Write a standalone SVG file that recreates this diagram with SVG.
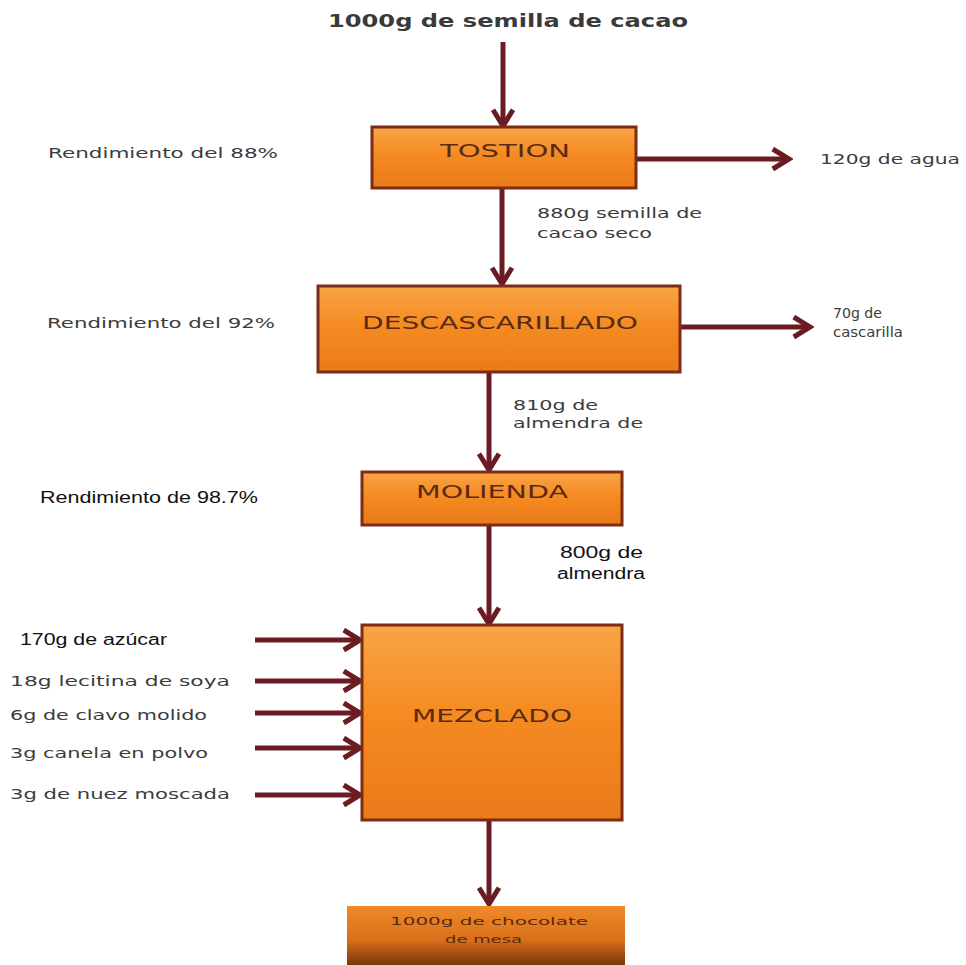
<svg xmlns="http://www.w3.org/2000/svg" width="966" height="965" viewBox="0 0 966 965">
  <style>
    .box { stroke: #7d2c16; stroke-width: 3; }
    .step { font-family: "DejaVu Sans", sans-serif; font-size: 18px; fill: #5a2a12; text-anchor: middle; }
    .note { font-family: "DejaVu Sans", sans-serif; font-size: 14px; fill: #3c3c3c; }
    .plain { font-family: "Liberation Sans", Arial, sans-serif; font-size: 16px; fill: #111; }
    .flow { stroke: #6b1c22; stroke-width: 5; fill: none; marker-end: url(#head); }
  </style>
  <defs>
    <linearGradient id="orange" x1="0" y1="0" x2="0" y2="1">
      <stop offset="0" stop-color="#f9a447"/>
      <stop offset="0.45" stop-color="#f58b22"/>
      <stop offset="1" stop-color="#ea7a1a"/>
    </linearGradient>
    <linearGradient id="orangeDark" x1="0" y1="0" x2="0" y2="1">
      <stop offset="0" stop-color="#f08a2a"/>
      <stop offset="0.55" stop-color="#d8701a"/>
      <stop offset="1" stop-color="#6e2e0c"/>
    </linearGradient>
    <marker id="head" viewBox="0 0 10 10" refX="8.5" refY="5" markerWidth="5" markerHeight="5" orient="auto" markerUnits="strokeWidth">
      <polyline points="2,1 8.5,5 2,9" fill="none" stroke="#6b1c22" stroke-width="2"/>
    </marker>
  </defs>
  <rect width="966" height="965" fill="#ffffff"/>

  <!-- flow arrows -->
  <g id="connectors">
    <line class="flow" x1="503" y1="42" x2="503" y2="126"/>
    <line class="flow" x1="636" y1="159" x2="789" y2="159"/>
    <line class="flow" x1="502" y1="188" x2="502" y2="284"/>
    <line class="flow" x1="680" y1="327" x2="810" y2="327"/>
    <line class="flow" x1="489" y1="372" x2="489" y2="470"/>
    <line class="flow" x1="489" y1="525" x2="489" y2="624"/>
    <line class="flow" x1="255" y1="640" x2="360" y2="640"/>
    <line class="flow" x1="255" y1="681" x2="360" y2="681"/>
    <line class="flow" x1="255" y1="713" x2="360" y2="713"/>
    <line class="flow" x1="255" y1="748" x2="360" y2="748"/>
    <line class="flow" x1="255" y1="795" x2="360" y2="795"/>
    <line class="flow" x1="489" y1="820" x2="489" y2="904"/>
  </g>

  <!-- raw material -->
  <g id="source">
    <text x="328" y="27" font-family="DejaVu Sans, sans-serif" font-size="18" font-weight="bold" fill="#3a3a3a" textLength="360" lengthAdjust="spacingAndGlyphs">1000g de semilla de cacao</text>
  </g>

  <g id="tostion">
    <rect class="box" x="372" y="127" width="264" height="61" fill="url(#orange)"/>
    <text class="step" x="505" y="157" textLength="130" lengthAdjust="spacingAndGlyphs">TOSTION</text>
  </g>
  <g id="agua">
    <text class="note" x="820" y="164" textLength="140" lengthAdjust="spacingAndGlyphs">120g de agua</text>
  </g>
  <g id="rend-88">
    <text class="note" x="48" y="158" textLength="230" lengthAdjust="spacingAndGlyphs">Rendimiento del  88%</text>
  </g>
  <g id="label-880">
    <text class="note" x="537" y="218" textLength="165" lengthAdjust="spacingAndGlyphs">880g semilla de</text>
    <text class="note" x="537" y="238" textLength="115" lengthAdjust="spacingAndGlyphs">cacao seco</text>
  </g>

  <g id="descascarillado">
    <rect class="box" x="318" y="286" width="362" height="86" fill="url(#orange)"/>
    <text class="step" x="500" y="329" textLength="276" lengthAdjust="spacingAndGlyphs">DESCASCARILLADO</text>
  </g>
  <g id="cascarilla">
    <text class="note" x="833" y="318" font-size="10" textLength="49" lengthAdjust="spacingAndGlyphs">70g de</text>
    <text class="note" x="833" y="337" font-size="10" textLength="70" lengthAdjust="spacingAndGlyphs">cascarilla</text>
  </g>
  <g id="rend-92">
    <text class="note" x="47" y="328" textLength="228" lengthAdjust="spacingAndGlyphs">Rendimiento del  92%</text>
  </g>
  <g id="label-810">
    <text class="note" x="513" y="410" textLength="85" lengthAdjust="spacingAndGlyphs">810g de</text>
    <text class="note" x="513" y="428" textLength="130" lengthAdjust="spacingAndGlyphs">almendra de</text>
  </g>

  <g id="molienda">
    <rect class="box" x="362" y="472" width="260" height="53" fill="url(#orange)"/>
    <text class="step" x="492" y="498" textLength="152" lengthAdjust="spacingAndGlyphs">MOLIENDA</text>
  </g>
  <g id="rend-98">
    <text class="plain" x="40" y="503" textLength="218" lengthAdjust="spacingAndGlyphs">Rendimiento de 98.7%</text>
  </g>
  <g id="label-800">
    <text class="plain" x="560" y="558" textLength="83" lengthAdjust="spacingAndGlyphs">800g  de</text>
    <text class="plain" x="557" y="579" textLength="88" lengthAdjust="spacingAndGlyphs">almendra</text>
  </g>

  <g id="mezclado">
    <rect class="box" x="362" y="625" width="260" height="195" fill="url(#orange)"/>
    <text class="step" x="492" y="722" textLength="160" lengthAdjust="spacingAndGlyphs">MEZCLADO</text>
  </g>
  <g id="inputs">
    <text class="plain" x="20" y="645" textLength="147" lengthAdjust="spacingAndGlyphs">170g de azúcar</text>
    <text class="note" x="10" y="686" textLength="220" lengthAdjust="spacingAndGlyphs">18g  lecitina de soya</text>
    <text class="note" x="10" y="720" textLength="197" lengthAdjust="spacingAndGlyphs">6g de clavo  molido</text>
    <text class="note" x="10" y="758" textLength="198" lengthAdjust="spacingAndGlyphs">3g canela  en  polvo</text>
    <text class="note" x="10" y="799" textLength="220" lengthAdjust="spacingAndGlyphs">3g de nuez  moscada</text>
  </g>

  <g id="chocolate">
    <rect x="347" y="906" width="278" height="62" fill="url(#orangeDark)"/>
    <text x="390" y="925" font-family="DejaVu Sans, sans-serif" font-size="11" fill="#5a2a12" textLength="198" lengthAdjust="spacingAndGlyphs">1000g  de chocolate</text>
    <text x="445" y="943" font-family="DejaVu Sans, sans-serif" font-size="11" fill="#5a2a12" textLength="77" lengthAdjust="spacingAndGlyphs">de mesa</text>
  </g>
</svg>
